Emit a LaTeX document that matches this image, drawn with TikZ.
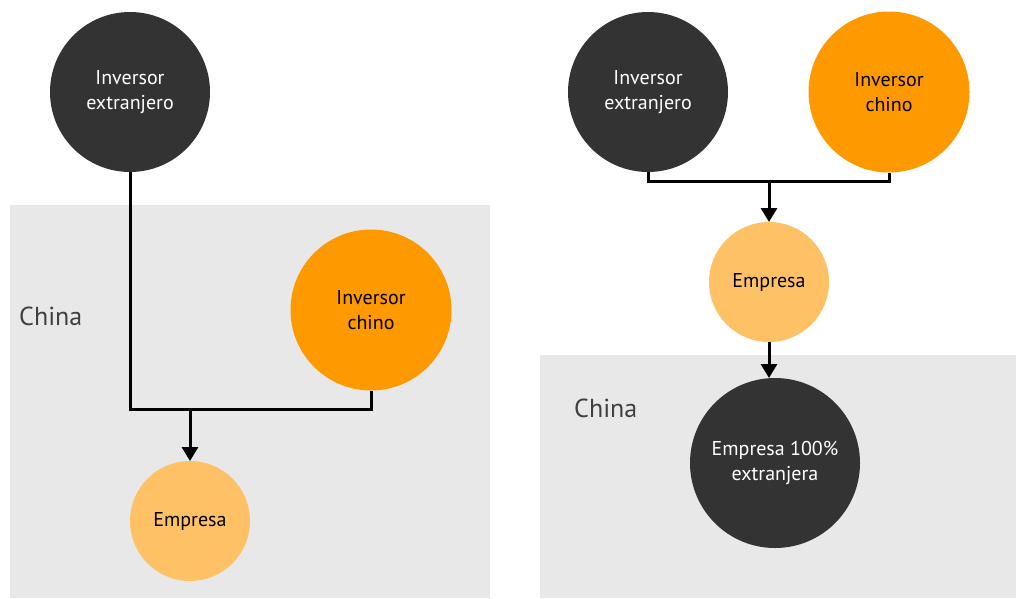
\documentclass[tikz,border=0pt]{standalone}
\usepackage{fontspec}
\setmainfont{PT Sans}
\usetikzlibrary{arrows.meta}
\definecolor{oscuro}{HTML}{333333}
\definecolor{naranja}{HTML}{FF9900}
\definecolor{claro}{HTML}{FFC166}
\definecolor{fondo}{HTML}{E8E8E8}
\definecolor{gristxt}{HTML}{404040}
\begin{document}
\begin{tikzpicture}[x=1pt,y=-1pt,
  bola/.style={circle,inner sep=0pt,outer sep=0pt,align=center,font=\fontsize{20}{25}\selectfont},
  extr/.style={bola,fill=oscuro,text=white,minimum size=160pt},
  chino/.style={bola,fill=naranja,text=black,minimum size=161pt},
  emp/.style={bola,fill=claro,text=black,minimum size=120pt},
  pais/.style={anchor=west,inner sep=0pt,text=gristxt,font=\fontsize{26}{30}\selectfont},
  linea/.style={line width=3pt},
  flecha/.style={linea,-{Triangle[width=16pt,length=14pt]}}]
\useasboundingbox (0,0) rectangle (1016,598);
\fill[fondo] (10,205) rectangle (490,598);
\fill[fondo] (540,355) rectangle (1016,598);
\node[pais] (cn1) at (19,316) {China};
\node[pais] (cn2) at (574,408) {China};
\node[extr] (ext1) at (130,92) {Inversor\\extranjero};
\node[chino] (chi1) at (371,310) {Inversor\\chino};
\node[emp] (emp1) at (190,521) {Empresa};
\coordinate (j1) at (190,409);
\draw[linea] (ext1.south) |- (j1) -| (chi1.south);
\draw[flecha] (j1) -- (emp1.north);
\node[extr] (ext2) at (648,92) {Inversor\\extranjero};
\node[chino] (chi2) at (889,92) {Inversor\\chino};
\node[emp] (emp2) at (769,282) {Empresa};
\node[extr,minimum size=170pt] (wfoe) at (775,463) {Empresa 100\%\\extranjera};
\coordinate (j2) at (769,181);
\draw[linea] (ext2.south) |- (j2) -| (chi2.south);
\draw[flecha] (j2) -- (emp2.north);
\draw[flecha] (emp2.south) -- (emp2.south |- wfoe.north);
\end{tikzpicture}
\end{document}
